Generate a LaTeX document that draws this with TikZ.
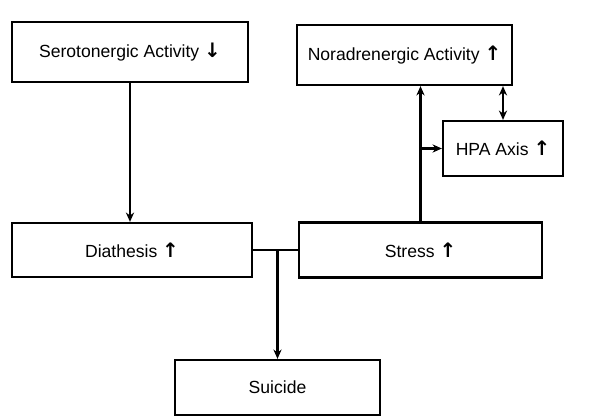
\documentclass[tikz,border=0pt]{standalone}
\usepackage{fontspec}
\setmainfont{Liberation Sans}
\newfontfamily\arrowfont{DejaVu Sans}
\usetikzlibrary{arrows.meta}

\newcommand{\up}{{\arrowfont\bfseries\fontsize{17}{17}\selectfont ↑}}
\newcommand{\down}{{\arrowfont\bfseries\fontsize{17}{17}\selectfont ↓}}

\begin{document}
\begin{tikzpicture}[x=0.03cm,y=-0.03cm,line width=2pt,
  >={Stealth[length=8pt,width=7pt]},
  box/.style={draw,line width=1.9pt,inner sep=0pt,font=\fontsize{15}{17}\selectfont}]
\useasboundingbox (0,0) rectangle (613,416);
\node[box,minimum width=7.1cm,minimum height=1.8cm] (sero) at (130,52) {Serotonergic Activity \down};
\node[box,minimum width=6.45cm,minimum height=1.8cm] (nor) at (404.5,55) {Noradrenergic Activity \up};
\node[box,minimum width=3.6cm,minimum height=1.65cm] (hpa) at (503,148.5) {HPA Axis \up};
\node[box,minimum width=7.2cm,minimum height=1.62cm] (diath) at (132,250) {Diathesis \up};
\node[box,minimum width=7.3cm,minimum height=1.65cm] (stress) at (420.5,250) {Stress \up};
\node[box,minimum width=6.15cm,minimum height=1.65cm] (suicide) at (277.5,387.5) {Suicide};
\coordinate (split) at (stress.north |- hpa.west);
\draw[->] (sero.south) -- (sero.south |- diath.north);
\draw (diath.east) -- (stress.west);
\draw[->] (diath.east -| suicide.north) -- (suicide.north);
\draw[->] (stress.north) -- (stress.north |- nor.south);
\draw[->] (split) -- (hpa.west);
\draw[<->] (hpa.north) -- (hpa.north |- nor.south);
\end{tikzpicture}
\end{document}
